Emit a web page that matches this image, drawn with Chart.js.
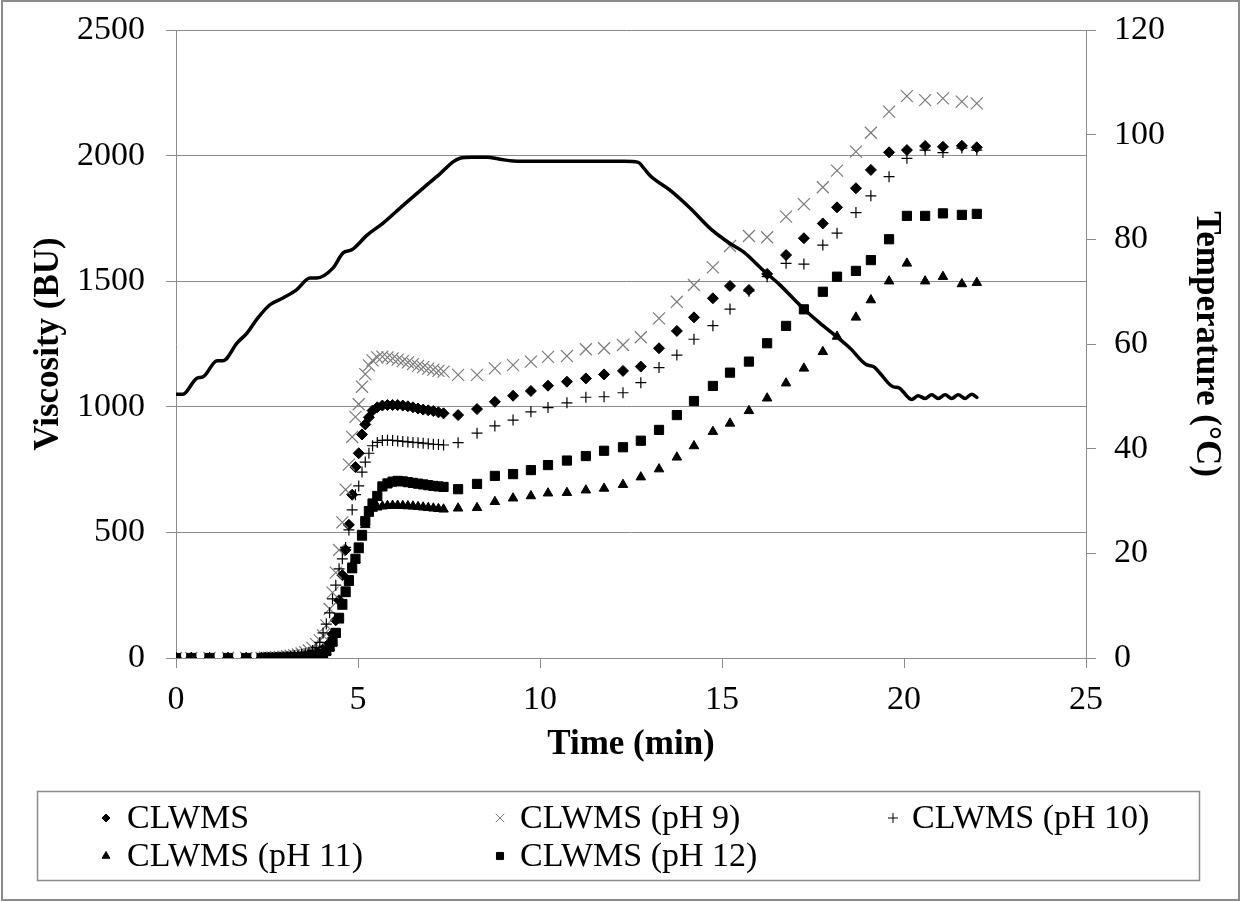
<!DOCTYPE html>
<html lang="en">
<head>
<meta charset="UTF-8">
<title>Pasting profile - CLWMS</title>
<style>
  html, body { margin: 0; padding: 0; background: #fff; }
  #wrap { width: 1241px; height: 902px; }
</style>
</head>
<body>
<div id="wrap"><canvas id="pastingChart" width="1241" height="902"></canvas></div>

<script src="https://cdn.jsdelivr.net/npm/chart.js"></script>
<script>
// Sampling times (min), shared by all viscosity curves
const time = [
  0, 0.42, 0.92, 1.43, 1.93,
  2.35, 2.45, 2.55, 2.65, 2.75, 2.85, 2.95, 3.05, 3.15, 3.25, 3.35, 3.45, 3.55, 3.65, 3.75, 3.85, 3.95,
  4.04, 4.13,
  4.22, 4.30, 4.39, 4.48, 4.57, 4.66, 4.75, 4.84, 4.93, 5.02, 5.11, 5.20, 5.30, 5.40,
  5.53, 5.67, 5.81, 5.95, 6.09, 6.23, 6.37, 6.51, 6.65, 6.79, 6.93, 7.07, 7.21, 7.35,
  7.75, 8.27, 8.76, 9.26, 9.75, 10.22, 10.74, 11.26, 11.76, 12.28, 12.77, 13.27, 13.76, 14.23, 14.75,
  15.22, 15.74, 16.24, 16.76, 17.25, 17.77, 18.16, 18.68, 19.09, 19.59, 20.08, 20.58, 21.07, 21.59, 22.0
];

// Viscosity (BU)
const clwms = [
  0, 0, 0, 0, 0,
  0, 0, 0, 1, 1, 2, 2, 3, 4, 5, 6, 8, 10, 13, 17, 22, 28,
  35, 45,
  60, 95, 150, 230, 330, 430, 530, 650, 760, 815, 890, 930, 958, 985,
  998, 1005, 1007, 1007, 1007, 1005, 1002, 998, 993, 989, 986, 983, 978, 974,
  967, 991, 1020, 1044, 1063, 1084, 1100, 1113, 1129, 1143, 1160, 1233, 1302, 1356, 1432,
  1481, 1465, 1529, 1604, 1671, 1730, 1794, 1870, 1943, 2013, 2022, 2038, 2035, 2039, 2033
];
const clwmsPh9 = [
  0, 0, 0, 0, 0,
  0, 1, 1, 2, 3, 4, 5, 7, 9, 11, 14, 18, 23, 30, 40, 55, 70,
  90, 130,
  195, 260, 340, 430, 540, 670, 770, 880, 960, 1010, 1080, 1130, 1165, 1185,
  1197, 1200, 1197, 1193, 1188, 1182, 1177, 1170, 1163, 1158, 1152, 1148, 1143, 1140,
  1127, 1127, 1153, 1166, 1180, 1199, 1202, 1229, 1233, 1246, 1277, 1352, 1418, 1485, 1555,
  1640, 1680, 1675, 1757, 1807, 1874, 1940, 2016, 2091, 2175, 2237, 2221, 2228, 2215, 2208
];
const clwmsPh10 = [
  0, 0, 0, 0, 0,
  0, 0, 1, 1, 2, 3, 4, 5, 7, 9, 11, 14, 18, 23, 30, 42, 62,
  100, 135,
  180, 235, 290, 355, 395, 440, 510, 590, 650, 685, 740, 780, 815, 845,
  858, 866, 867, 866, 864, 862, 860, 858, 857, 855, 853, 851, 850, 848,
  857, 895, 924, 947, 980, 997, 1016, 1038, 1040, 1056, 1096, 1156, 1206, 1269, 1323,
  1389, 1460, 1518, 1571, 1568, 1644, 1691, 1773, 1840, 1916, 1989, 2022, 2012, 2030, 2022
];
const clwmsPh11 = [
  0, 0, 0, 0, 0,
  0, 0, 0, 0, 1, 1, 1, 2, 2, 3, 3, 4, 5, 6, 7, 9, 11,
  15, 25,
  40, 60, 95, 150, 205, 255, 300, 350, 390, 430, 480, 530, 575, 595,
  600, 604, 606, 607, 607, 606, 605, 604, 602, 600, 598, 596, 594, 592,
  596, 598, 622, 636, 645, 656, 658, 668, 675, 690, 720, 752, 799, 844, 901,
  934, 984, 1034, 1094, 1153, 1219, 1280, 1356, 1425, 1500, 1571, 1500, 1518, 1489, 1494
];
const clwmsPh12 = [
  0, 0, 0, 0, 0,
  0, 0, 0, 0, 1, 1, 1, 2, 2, 3, 3, 4, 5, 6, 8, 10, 12,
  16, 28,
  45, 65, 100, 160, 215, 265, 310, 360, 395, 440, 490, 545, 585, 615,
  645, 683, 695, 702, 705, 703, 700, 697, 694, 691, 688, 685, 683, 681,
  672, 693, 725, 732, 748, 768, 786, 804, 825, 839, 865, 908, 967, 1023, 1083,
  1136, 1180, 1253, 1322, 1388, 1458, 1518, 1541, 1584, 1667, 1760, 1760, 1770, 1764, 1768
];

// Temperature programme (°C)
const tempTime = [
  0, 0.19, 0.58, 0.74, 1.13, 1.29, 1.68, 1.95, 2.25, 2.58,
  2.94, 3.32, 3.68, 3.87, 4.31, 4.59, 4.83, 5.25, 5.69, 6.24,
  6.79, 7.25, 7.61, 7.8, 8.13, 8.54, 8.9, 9.45, 10.5, 11.5,
  12.3, 12.7, 12.85, 13.05, 13.57, 14.12, 14.72, 15.22, 15.59, 16.13,
  16.59, 16.96, 17.28, 17.69, 18.15, 18.52, 18.98, 19.16, 19.34, 19.71,
  19.84, 20.21, 20.39, 20.58, 20.76, 20.94, 21.13, 21.31, 21.49, 21.68,
  21.86, 22.0
];
const tempValues = [
  50.4, 50.4, 53.5, 53.7, 56.8, 56.8, 60.2, 62.1, 65.0, 67.5,
  68.8, 70.4, 72.6, 72.6, 74.5, 77.4, 78.0, 80.8, 83.1, 86.5,
  89.8, 92.5, 94.8, 95.5, 95.7, 95.7, 95.3, 94.9, 94.9, 94.9,
  94.9, 94.7, 93.6, 92.0, 89.4, 86.0, 81.8, 79.2, 77.6, 74.1,
  71.3, 68.7, 66.5, 64.0, 61.4, 59.2, 56.0, 55.7, 54.4, 51.8,
  51.7, 49.4, 50.1, 49.6, 50.3, 49.6, 50.3, 49.6, 50.3, 49.6,
  50.4, 49.8
];

// Axis ticks
const timeTicks = [0, 5, 10, 15, 20, 25];
const viscosityTicks = [0, 500, 1000, 1500, 2000, 2500];
const temperatureTicks = [0, 20, 40, 60, 80, 100, 120];

document.addEventListener('DOMContentLoaded', () => {
    const GRID = '#8c8c8c';
    const tickFont = { family: '"Liberation Serif", "Times New Roman", serif', size: 34 };
    const titleFont = { family: '"Liberation Serif", "Times New Roman", serif', size: 35, weight: 'bold' };
    const plain = v => String(v);   // no thousands separator

    // fixed side width; label overhang must not push the plot area down
    const fixWidth = w => s => {
        s.width = w;
        s.paddingTop = 0;
        s.paddingBottom = 0;
    };

    const series = [
        { label: 'CLWMS', values: clwms, style: 'rectRot', radius: 5.5, legendRadius: 4, color: '#000', border: 1 },
        { label: 'CLWMS (pH 9)', values: clwmsPh9, style: 'crossRot', radius: 8.5, legendRadius: 6, color: '#7a7a7a', border: 1.2 },
        { label: 'CLWMS (pH 10)', values: clwmsPh10, style: 'cross', radius: 5.5, legendRadius: 5, color: '#000', border: 1.2 },
        { label: 'CLWMS (pH 11)', values: clwmsPh11, style: 'triangle', radius: 5.5, legendRadius: 4.5, color: '#000', border: 1 },
        { label: 'CLWMS (pH 12)', values: clwmsPh12, style: 'rect', radius: 6.5, legendRadius: 5, color: '#000', border: 1 }
    ];

    const datasets = series.map((s, i) => ({
        label: s.label,
        data: time.map((t, k) => ({ x: t, y: s.values[k] })),
        yAxisID: 'y',
        showLine: false,
        pointStyle: s.style,
        pointRadius: s.radius,
        pointBackgroundColor: s.color,
        pointBorderColor: s.color,
        pointBorderWidth: s.border,
        order: series.length - i
    }));

    datasets.push({
        label: 'Temperature',
        data: tempTime.map((t, k) => ({ x: t, y: tempValues[k] })),
        yAxisID: 'y2',
        showLine: true,
        borderColor: '#000',
        borderWidth: 3.5,
        pointRadius: 0,
        cubicInterpolationMode: 'monotone',
        borderJoinStyle: 'round',
        borderCapStyle: 'round',
        order: 0
    });

    // White page, outer frame and the boxed legend below the plot
    const frameAndLegend = {
        id: 'frameAndLegend',
        beforeDraw(chart) {
            const ctx = chart.ctx;
            ctx.save();
            ctx.fillStyle = '#fff';
            ctx.fillRect(0, 0, chart.width, chart.height);
            ctx.restore();
        },
        afterDraw(chart) {
            const ctx = chart.ctx;
            ctx.save();
            ctx.strokeStyle = GRID;
            ctx.lineWidth = 2;
            ctx.strokeRect(2, 1, 1237, 899);
            ctx.lineWidth = 1.5;
            ctx.strokeRect(37.5, 791.5, 1162, 89);

            const colMarker = [106, 500, 893];
            const colText = [127, 520, 912];
            const rowY = [818, 856];
            ctx.font = '34px "Liberation Serif", "Times New Roman", serif';
            ctx.textBaseline = 'middle';
            ctx.textAlign = 'left';
            series.forEach((s, i) => {
                const col = i % 3, row = Math.floor(i / 3);
                ctx.fillStyle = s.color;
                ctx.strokeStyle = s.color;
                ctx.lineWidth = 1;
                if (Chart.helpers && Chart.helpers.drawPoint) {
                    Chart.helpers.drawPoint(ctx, {
                        pointStyle: s.style, radius: s.legendRadius, borderWidth: 1, rotation: 0
                    }, colMarker[col], rowY[row]);
                }
                ctx.fillStyle = '#000';
                ctx.fillText(s.label, colText[col], rowY[row] + 1);
            });
            ctx.restore();
        }
    };

    new Chart(document.getElementById('pastingChart').getContext('2d'), {
        type: 'scatter',
        data: { datasets },
        plugins: [frameAndLegend],
        options: {
            responsive: false,
            animation: false,
            devicePixelRatio: 1,
            layout: { padding: { top: 30, bottom: 134, left: 0, right: 0 } },
            plugins: { legend: { display: false }, tooltip: { enabled: false } },
            scales: {
                x: {
                    type: 'linear',
                    min: 0, max: 25,
                    afterBuildTicks: s => { s.ticks = timeTicks.map(v => ({ value: v })); },
                    afterFit: s => { s.height = 110; },
                    grid: { drawOnChartArea: false, tickLength: 10, color: GRID },
                    border: { color: GRID, width: 1 },
                    ticks: { font: tickFont, color: '#000', padding: 12, maxRotation: 0, callback: plain },
                    title: { display: true, text: 'Time (min)', font: titleFont, color: '#000', padding: { top: 0, bottom: 2 } }
                },
                y: {
                    type: 'linear',
                    position: 'left',
                    min: 0, max: 2500,
                    afterBuildTicks: s => { s.ticks = viscosityTicks.map(v => ({ value: v })); },
                    afterFit: fixWidth(176),
                    grid: { color: GRID, tickLength: 10 },
                    border: { color: GRID, width: 1 },
                    ticks: { font: tickFont, color: '#000', padding: 21, callback: plain },
                    title: { display: true, text: 'Viscosity (BU)', font: titleFont, color: '#000', padding: { top: 28, bottom: 0 } }
                },
                y2: {
                    type: 'linear',
                    position: 'right',
                    min: 0, max: 120,
                    afterBuildTicks: s => { s.ticks = temperatureTicks.map(v => ({ value: v })); },
                    afterFit: fixWidth(155),
                    grid: { drawOnChartArea: false, tickLength: 10, color: GRID },
                    border: { color: GRID, width: 1 },
                    ticks: { font: tickFont, color: '#000', padding: 18, callback: plain },
                    title: { display: true, text: 'Temperature (°C)', font: titleFont, color: '#000', padding: { top: 14, bottom: 0 } }
                }
            }
        }
    });
});
</script>
</body>
</html>
